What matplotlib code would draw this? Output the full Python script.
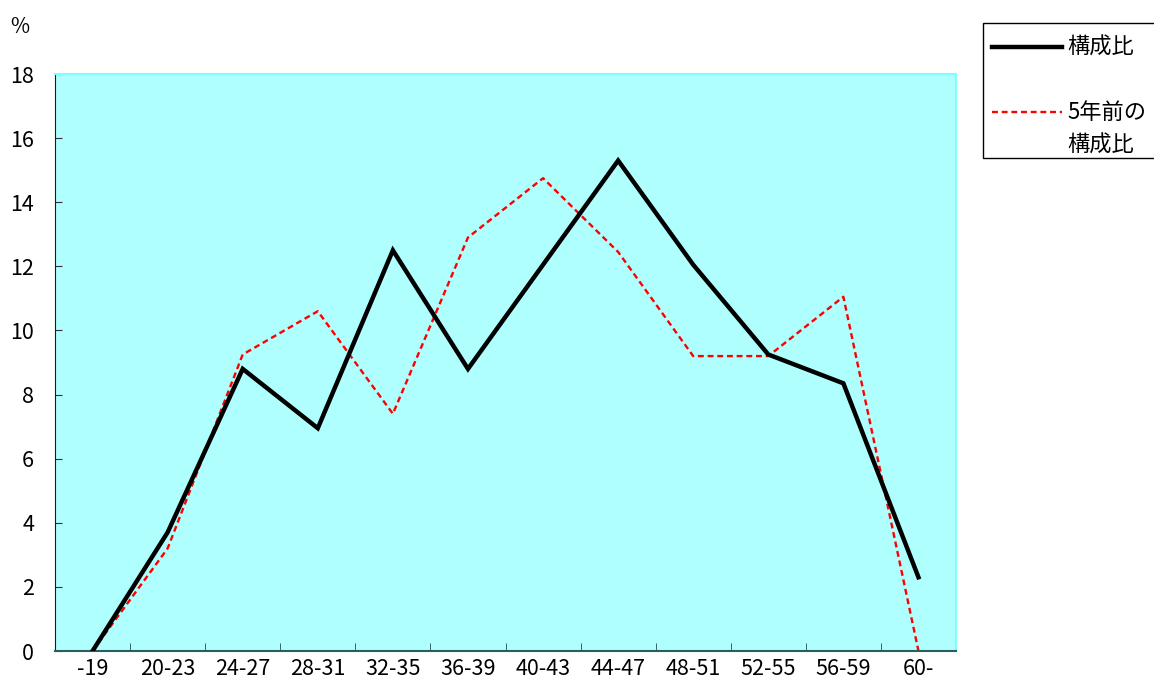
import numpy as np
import matplotlib.pyplot as plt
from matplotlib.lines import Line2D
from matplotlib.patches import Rectangle

plt.rcParams['font.family'] = ['Noto Sans CJK JP', 'DejaVu Sans']

# ---------- data ----------
age_groups = ["-19", "20-23", "24-27", "28-31", "32-35", "36-39",
              "40-43", "44-47", "48-51", "52-55", "56-59", "60-"]
ratio_now = [0.0, 3.7, 8.8, 6.95, 12.5, 8.8, 12.05, 15.3, 12.05, 9.25, 8.35, 2.3]
ratio_5y_ago = [0.0, 3.2, 9.25, 10.6, 7.4, 12.9, 14.75, 12.45, 9.2, 9.2, 11.05, 0.0]
y_ticks = np.arange(0, 19, 2)

# ---------- figure ----------
fig = plt.figure(figsize=(11.54, 6.86), dpi=100)
ax = fig.add_axes([55 / 1154, 1 - 651 / 686, (956 - 55) / 1154, (651 - 74) / 686])
ax.set_facecolor("#B0FFFF")

x = np.arange(len(age_groups))
ax.plot(x, ratio_now, color="black", lw=3.2, solid_joinstyle="miter", zorder=3)
ax.plot(x, ratio_5y_ago, color="red", lw=1.7, dashes=(2.5, 1.6), zorder=2)

ax.set_xlim(-0.5, len(age_groups) - 0.5)
ax.set_ylim(0, 18)

# y axis
ax.set_yticks(y_ticks)
ax.tick_params(axis="y", direction="in", length=5, pad=15, labelsize=15.5, color="#333333")

# x axis: labels centered, tick marks between categories
ax.set_xticks(x)
ax.set_xticklabels(age_groups)
ax.set_xticks(np.arange(-0.5, len(age_groups), 1), minor=True)
ax.tick_params(axis="x", which="major", length=0, pad=5, labelsize=15.5)
ax.tick_params(axis="x", which="minor", direction="in", length=6, color="#1f4f4f")

for side in ("top", "right"):
    ax.spines[side].set_color("#80FFFF")
    ax.spines[side].set_linewidth(1.5)
ax.spines["left"].set_color("#102020")
ax.spines["bottom"].set_color("#2a5f5f")
ax.spines["bottom"].set_linewidth(1.5)

fig.text(10 / 1154, 1 - 27 / 686, "%", fontsize=15, va="center", ha="left")

# ---------- legend (manual, clipped on the right like the original) ----------
fig.patches.append(Rectangle((983 / 1154, 1 - 158 / 686), 200 / 1154, 135 / 686,
                             transform=fig.transFigure, facecolor="white",
                             edgecolor="black", lw=1))
fig.lines.append(Line2D([992 / 1154, 1062 / 1154], [1 - 47 / 686] * 2,
                        transform=fig.transFigure, color="black", lw=3.2))
fig.lines.append(Line2D([992 / 1154, 1062 / 1154], [1 - 112 / 686] * 2,
                        transform=fig.transFigure, color="red", lw=1.7, dashes=(2.5, 1.6)))
fig.text(1067 / 1154, 1 - 47 / 686, "構成比", fontsize=16, va="center", ha="left")
fig.text(1067 / 1154, 1 - 112 / 686, "5年前の", fontsize=16, va="center", ha="left")
fig.text(1067 / 1154, 1 - 145 / 686, "構成比", fontsize=16, va="center", ha="left")

fig.savefig("out.png", dpi=100)
